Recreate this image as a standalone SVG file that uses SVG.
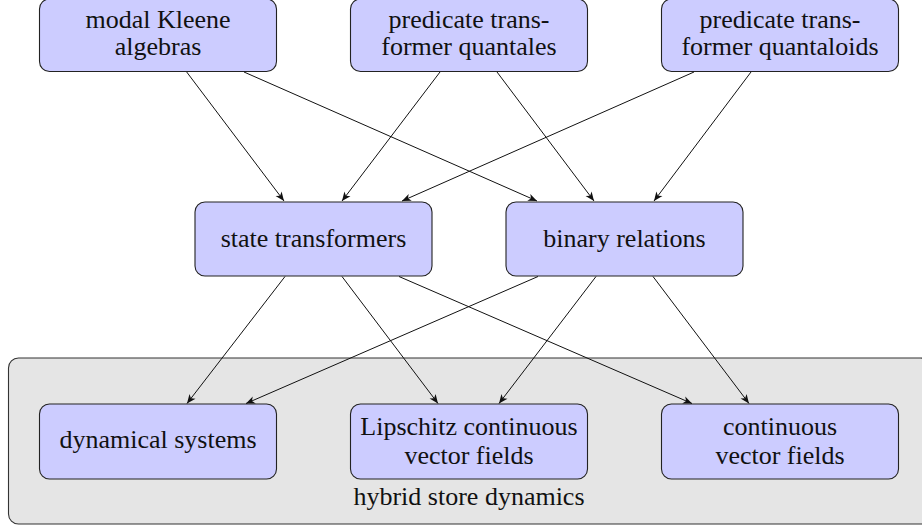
<svg xmlns="http://www.w3.org/2000/svg" width="922" height="527" viewBox="0 0 922 527">
<style>
.node{fill:#ccccff;stroke:#222;stroke-width:1.1}
.outer{fill:#e5e5e5;stroke:#333;stroke-width:1.1}
.edge{stroke:#111;stroke-width:1;fill:none;marker-end:url(#arr)}
</style>
<defs>
<marker id="arr" markerUnits="userSpaceOnUse" markerWidth="12" markerHeight="10" viewBox="-10 -5 12 10" refX="0" refY="0" orient="auto">
<path d="M0,0 L-9,-3.8 L-6.5,0 L-9,3.8 Z" fill="#111"/>
</marker>
</defs>
<g font-family="Liberation Serif, DejaVu Serif, serif" font-size="26" fill="#111" text-anchor="middle">
<g id="hybrid-store-dynamics">
<rect class="outer" x="8.5" y="358" width="922" height="166" rx="10"/>
<text x="469" y="505">hybrid store dynamics</text>
</g>
<g id="modal-kleene-algebras">
<rect class="node" x="39.5" y="-1" width="237" height="72.5" rx="10"/>
<text x="158" y="28">modal Kleene</text>
<text x="158" y="54.5">algebras</text>
</g>
<g id="pt-quantales">
<rect class="node" x="350.5" y="-1" width="237" height="72.5" rx="10"/>
<text x="469" y="28">predicate trans-</text>
<text x="469" y="54.5">former quantales</text>
</g>
<g id="pt-quantaloids">
<rect class="node" x="661.5" y="-1" width="237" height="72.5" rx="10"/>
<text x="780" y="28">predicate trans-</text>
<text x="780" y="54.5">former quantaloids</text>
</g>
<g id="state-transformers">
<rect class="node" x="195" y="202" width="237" height="74" rx="10"/>
<text x="313.5" y="247">state transformers</text>
</g>
<g id="binary-relations">
<rect class="node" x="506" y="202" width="237" height="74" rx="10"/>
<text x="624.5" y="247">binary relations</text>
</g>
<g id="dynamical-systems">
<rect class="node" x="39.5" y="404" width="237" height="75" rx="10"/>
<text x="158" y="448">dynamical systems</text>
</g>
<g id="lipschitz-vector-fields">
<rect class="node" x="350.5" y="404" width="237" height="75" rx="10"/>
<text x="469" y="435">Lipschitz continuous</text>
<text x="469" y="464">vector fields</text>
</g>
<g id="continuous-vector-fields">
<rect class="node" x="661.5" y="404" width="237" height="75" rx="10"/>
<text x="780" y="435">continuous</text>
<text x="780" y="464">vector fields</text>
</g>
</g>
<g id="connectors">
<line class="edge" x1="186.7" y1="72" x2="284" y2="201"/>
<line class="edge" x1="244" y1="72" x2="537" y2="201"/>
<line class="edge" x1="440" y1="72" x2="342" y2="201"/>
<line class="edge" x1="694" y1="72" x2="402" y2="201"/>
<line class="edge" x1="497" y1="72" x2="594" y2="201"/>
<line class="edge" x1="751" y1="72" x2="654" y2="201"/>
<line class="edge" x1="285" y1="276.5" x2="187" y2="403.5"/>
<line class="edge" x1="342" y1="276.5" x2="438" y2="403.5"/>
<line class="edge" x1="399" y1="276.5" x2="692" y2="403.5"/>
<line class="edge" x1="538" y1="276.5" x2="246" y2="403.5"/>
<line class="edge" x1="596" y1="276.5" x2="499" y2="403.5"/>
<line class="edge" x1="653" y1="276.5" x2="749" y2="403.5"/>
</g>
</svg>
